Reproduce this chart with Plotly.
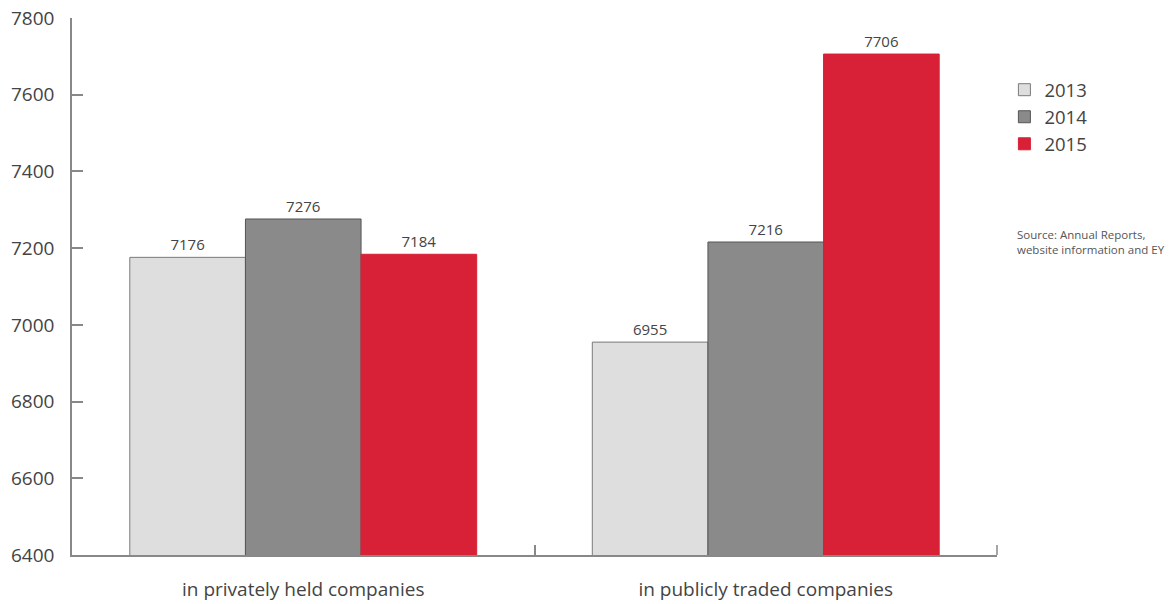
import plotly.graph_objects as go

categories = ["in privately held companies", "in publicly traded companies"]
years = ["2013", "2014", "2015"]
values_2013 = [7176, 6955]
values_2014 = [7276, 7216]
values_2015 = [7184, 7706]
y_ticks = [6400, 6600, 6800, 7000, 7200, 7400, 7600, 7800]

series = [values_2013, values_2014, values_2015]
fills = ["#dedede", "#8a8a8a", "#d82037"]
lines = ["#7a7a7a", "#555555", "#d82037"]

FONT = "Open Sans, Lato, sans-serif"

fig = go.Figure()
for name, vals, fc, lc in zip(years, series, fills, lines):
    fig.add_trace(go.Bar(
        x=categories, y=vals, name=name,
        marker=dict(color=fc, line=dict(color=lc, width=1)),
        text=[str(v) for v in vals], textposition="outside",
        textfont=dict(size=15, color="#444444", family=FONT),
        cliponaxis=False,
    ))

fig.update_layout(
    width=1176, height=604,
    margin=dict(l=72, r=179, t=18, b=49, autoexpand=False),
    paper_bgcolor="white", plot_bgcolor="white",
    barmode="group", bargap=0.25, bargroupgap=0,
    font=dict(family=FONT, color="#444444"),
    legend=dict(x=1.008, y=0.901, xanchor="left", yanchor="top",
                font=dict(size=18.5, color="#444444"),
                itemwidth=30, tracegroupgap=0),
    xaxis=dict(showline=True, linecolor="#888888", linewidth=1.5,
               ticks="inside", ticklen=10, tickcolor="#888888", tickwidth=1.5,
               tickson="boundaries", showgrid=False, automargin=False,
               tickfont=dict(size=19, color="#444444"), ticklabelstandoff=16),
    yaxis=dict(range=[6400, 7800], tickvals=y_ticks,
               showline=True, linecolor="#888888", linewidth=1.5,
               ticks="inside", ticklen=11, tickcolor="#888888", tickwidth=1.5,
               showgrid=False, zeroline=False, automargin=False,
               tickfont=dict(size=19, color="#444444"), ticklabelstandoff=12),
    shapes=[dict(type="line", xref="paper", yref="paper", x0=1, x1=1,
                 y0=0, y1=10, ysizemode="pixel", yanchor=0,
                 line=dict(color="#888888", width=1.5))],
    annotations=[dict(text="Source: Annual Reports,<br>website information and EY",
                      xref="paper", yref="paper", x=1.019, y=0.615,
                      xanchor="left", yanchor="top", align="left",
                      showarrow=False, font=dict(size=11.5, color="#555555"))],
)

fig.write_html("out.html", config={"displayModeBar": False},
               post_script="document.body.style.margin='0';")
